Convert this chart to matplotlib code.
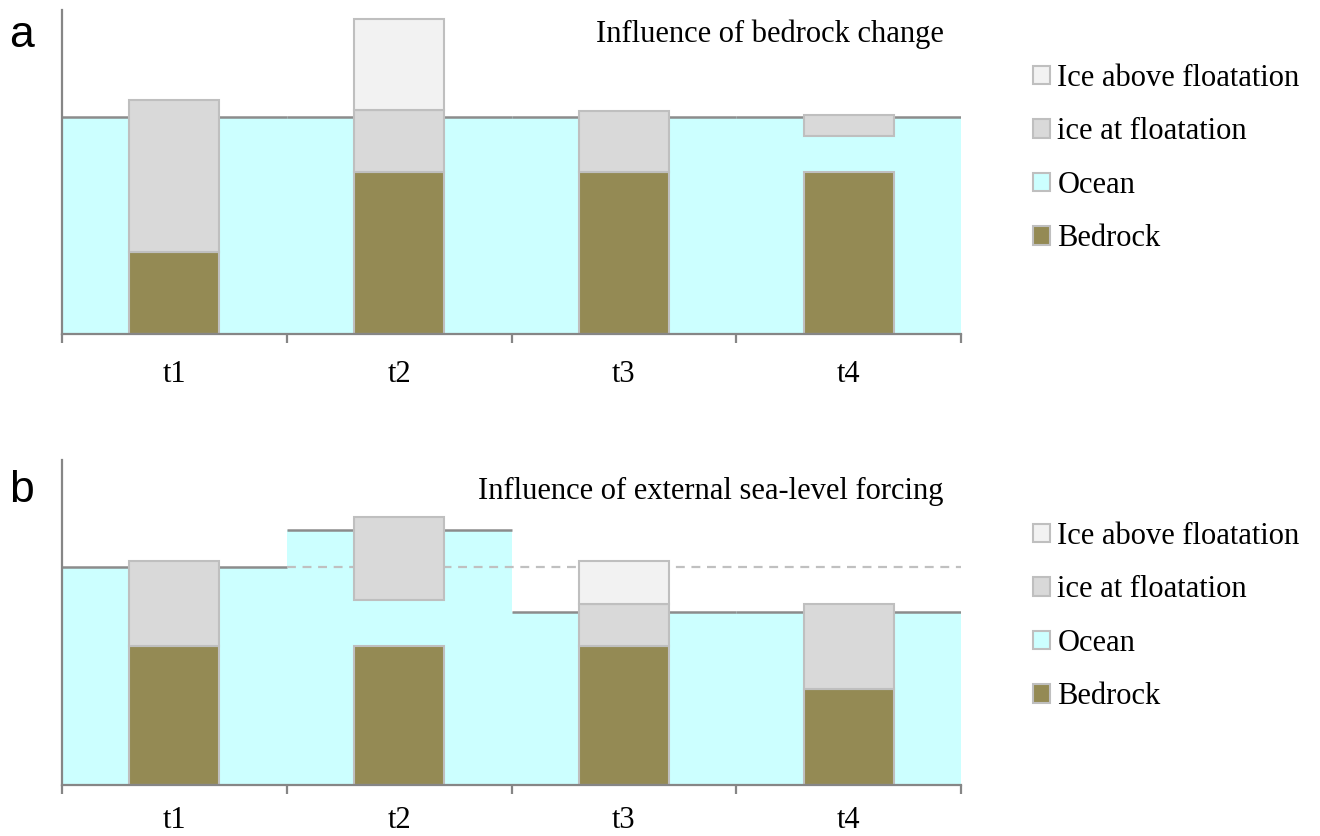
import matplotlib
matplotlib.use("Agg")
import matplotlib.pyplot as plt
from matplotlib.patches import Patch
import numpy as np

# ---------------- data ----------------
categories = ["t1", "t2", "t3", "t4"]

# panel a: influence of bedrock change
a_ocean = [67.0, 67.0, 67.0, 67.0]
a_bedrock = [25.3, 50.0, 50.0, 50.0]
a_gap = [0.0, 0.0, 0.0, 11.1]           # water between bedrock and floating ice
a_ice_float = [46.9, 19.1, 18.8, 6.5]
a_ice_above = [0.0, 28.1, 0.0, 0.0]
a_reference = None

# panel b: influence of external sea-level forcing
b_ocean = [67.0, 78.4, 53.1, 53.1]
b_bedrock = [42.9, 42.9, 42.9, 29.6]
b_gap = [0.0, 13.9, 0.0, 0.0]
b_ice_float = [25.9, 25.6, 12.7, 26.0]
b_ice_above = [0.0, 0.0, 13.2, 0.0]
b_reference = 67.0                      # original sea level (dashed)

titles = ["Influence of bedrock change", "Influence of external sea-level forcing"]
panel_labels = ["a", "b"]
legend_labels = ["Ice above floatation", "ice at floatation", "Ocean", "Bedrock"]

# ---------------- style ----------------
C_OCEAN = "#CCFFFF"
C_BED = "#948A54"
C_FLOAT = "#D9D9D9"
C_ABOVE = "#F2F2F2"
C_EDGE = "#BFBFBF"
C_AXIS = "#868686"
C_SURF = "#8C8C8C"
SERIF = "Liberation Serif"
FS = 22

W, H = 1320, 836
fig = plt.figure(figsize=(W / 100, H / 100), dpi=100)


def fx(px):
    return px / W


def fy(py):
    return 1 - py / H


def draw_panel(top_px, bottom_px, ocean, bedrock, gap, ice_float, ice_above,
               reference, title, label, title_off, label_off, legend_off, tick_pad):
    left_px, right_px = 62, 961
    ax = fig.add_axes([fx(left_px), fy(bottom_px), fx(right_px - left_px),
                       (bottom_px - top_px) / H])
    x = np.arange(len(categories))
    ocean = np.array(ocean)
    bedrock = np.array(bedrock)
    gap = np.array(gap)
    ice_float = np.array(ice_float)
    ice_above = np.array(ice_above)

    # ocean as gap-free step columns
    ax.bar(x, ocean, width=1.0, color=C_OCEAN, edgecolor="none", zorder=1)
    ax.hlines(ocean, x - 0.5, x + 0.5, color=C_SURF, lw=1.8, zorder=2)
    if reference is not None:
        ax.hlines(reference, 0.5, 3.5, color="#C0C0C0", lw=1.6,
                  linestyles=(0, (4, 3)), zorder=3)

    bw = 0.4

    def ec(v):
        return [C_EDGE if val > 0 else "none" for val in v]

    ax.bar(x, bedrock, width=bw, color=C_BED, edgecolor=ec(bedrock), lw=1.5, zorder=4)
    b2 = bedrock + gap
    ax.bar(x, ice_float, bottom=b2, width=bw, color=C_FLOAT,
           edgecolor=ec(ice_float), lw=1.5, zorder=4)
    b3 = b2 + ice_float
    ax.bar(x, ice_above, bottom=b3, width=bw,
           color=[C_ABOVE if v > 0 else "none" for v in ice_above],
           edgecolor=ec(ice_above), lw=1.5, zorder=4)

    ax.set_xlim(-0.5, len(categories) - 0.5)
    ax.set_ylim(0, 100)
    for s in ["top", "right"]:
        ax.spines[s].set_visible(False)
    for s in ["left", "bottom"]:
        ax.spines[s].set_color(C_AXIS)
        ax.spines[s].set_linewidth(1.6)
        ax.spines[s].set_zorder(5)
    ax.set_yticks([])
    ax.set_xticks(np.arange(len(categories) + 1) - 0.5)
    ax.set_xticklabels([])
    ax.tick_params(axis="x", which="major", length=6.5, width=1.6, color=C_AXIS)
    ax.set_xticks(x, minor=True)
    ax.set_xticklabels(categories, minor=True, fontsize=FS, family=SERIF)
    ax.tick_params(axis="x", which="minor", length=0, pad=tick_pad)

    ax.text(0.981, (bottom_px - (top_px + title_off)) / (bottom_px - top_px), title,
            transform=ax.transAxes, ha="right", va="baseline",
            fontsize=FS, family=SERIF, zorder=6)

    fig.text(fx(9), fy(top_px + label_off), label, fontsize=32,
             family="Liberation Sans", ha="left", va="baseline")

    handles = [Patch(facecolor=C_ABOVE, edgecolor=C_EDGE, lw=1.5),
               Patch(facecolor=C_FLOAT, edgecolor=C_EDGE, lw=1.5),
               Patch(facecolor=C_OCEAN, edgecolor=C_EDGE, lw=1.5),
               Patch(facecolor=C_BED, edgecolor=C_EDGE, lw=1.5)]
    fig.legend(handles, legend_labels, loc="upper left",
               bbox_to_anchor=(fx(1033), fy(top_px + legend_off)),
               frameon=False, prop={"family": SERIF, "size": FS},
               handlelength=0.55, handleheight=0.55, handletextpad=0.25,
               labelspacing=0.8, borderpad=0, borderaxespad=0)
    return ax


draw_panel(10, 334, a_ocean, a_bedrock, a_gap, a_ice_float, a_ice_above,
           a_reference, titles[0], panel_labels[0], 32, 37, 54, 19)
draw_panel(460, 785, b_ocean, b_bedrock, b_gap, b_ice_float, b_ice_above,
           b_reference, titles[1], panel_labels[1], 39, 42, 62, 15)

fig.savefig("out.png", dpi=100, facecolor="white")
